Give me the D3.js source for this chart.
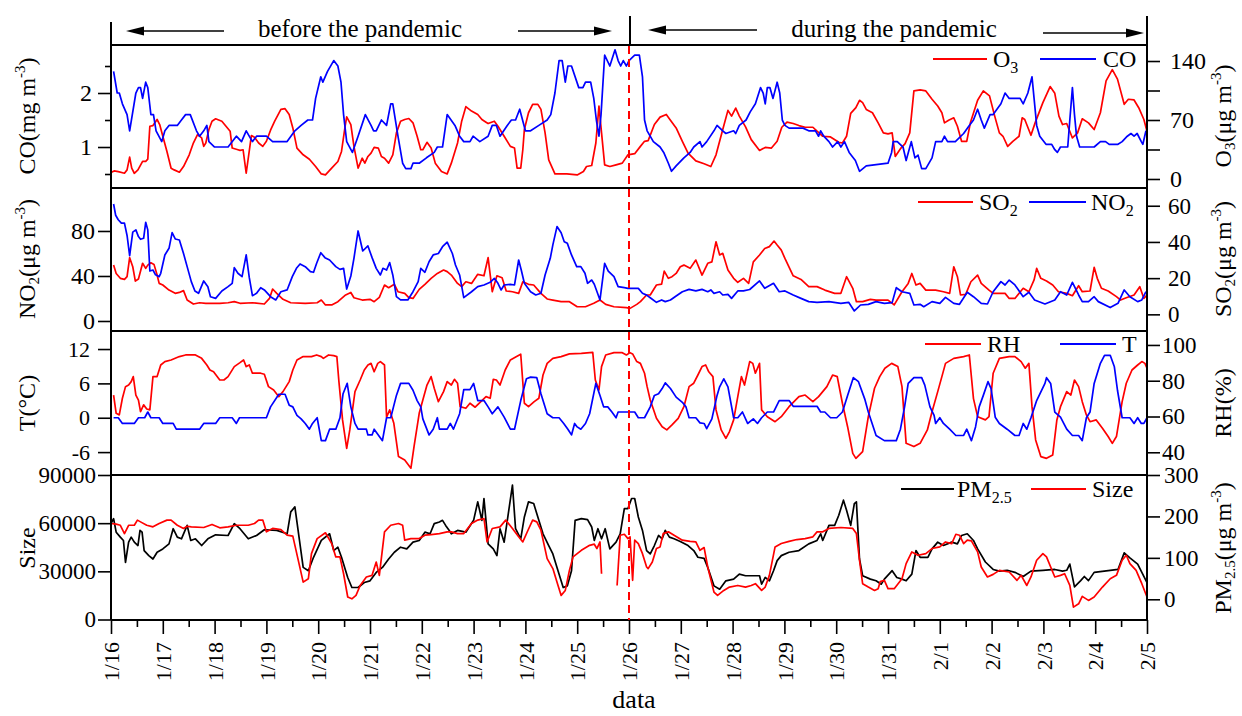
<!DOCTYPE html>
<html><head><meta charset="utf-8">
<script src="https://cdn.jsdelivr.net/npm/d3@7"></script>
<style>
body{margin:0;background:#fff;}
svg text{font-family:"Liberation Serif","Times New Roman",serif;fill:#000;}
</style>
</head><body>
<svg id="c" width="1242" height="716"></svg>
<script>
// ---------------- DATA (day offset from 1/16 00:00, value) ----------------
const dayLabels = ["1/16","1/17","1/18","1/19","1/20","1/21","1/22","1/23","1/24","1/25","1/26","1/27","1/28","1/29","1/30","1/31","2/1","2/2","2/3","2/4","2/5"];

const coData = [[0.05,2.4],[0.12,2.0],[0.16,2.0],[0.22,1.8],[0.31,1.6],[0.36,1.3],[0.48,2.0],[0.53,2.1],[0.57,2.1],[0.61,1.9],[0.67,2.2],[0.71,2.1],[0.77,1.6],[0.82,1.6],[0.87,1.3],[0.98,1.1],[1.04,1.3],[1.12,1.4],[1.28,1.4],[1.36,1.5],[1.44,1.6],[1.53,1.6],[1.65,1.3],[1.71,1.2],[1.79,1.3],[1.85,1.4],[1.89,1.1],[2.0,1.0],[2.26,1.0],[2.42,1.2],[2.52,1.1],[2.61,1.3],[2.73,1.1],[2.81,1.2],[3.0,1.2],[3.12,1.1],[3.4,1.1],[3.55,1.3],[3.67,1.4],[3.8,1.5],[3.89,1.5],[3.95,1.9],[4.05,2.3],[4.09,2.2],[4.18,2.4],[4.3,2.6],[4.38,2.5],[4.44,2.2],[4.49,1.6],[4.55,1.1],[4.66,0.9],[4.77,1.2],[4.91,1.6],[5.02,1.4],[5.07,1.3],[5.12,1.3],[5.22,1.5],[5.32,1.4],[5.4,1.8],[5.44,1.8],[5.54,1.2],[5.63,0.7],[5.69,0.6],[5.79,0.6],[5.83,0.7],[5.95,0.7],[6.09,0.8],[6.24,0.9],[6.3,1.0],[6.4,1.0],[6.49,1.6],[6.64,1.4],[6.73,1.2],[6.81,1.1],[6.93,1.1],[6.99,1.2],[7.12,1.1],[7.28,1.2],[7.36,1.4],[7.44,1.4],[7.51,1.2],[7.65,1.4],[7.73,1.5],[7.81,1.5],[7.89,1.7],[8.0,1.3],[8.1,1.3],[8.26,1.4],[8.42,1.5],[8.49,1.6],[8.57,2.0],[8.65,2.6],[8.71,2.6],[8.77,2.2],[8.82,2.5],[8.89,2.5],[9.03,2.1],[9.11,2.1],[9.16,2.2],[9.26,2.2],[9.32,1.9],[9.37,1.5],[9.42,1.2],[9.46,1.6],[9.53,2.7],[9.63,2.5],[9.73,2.8],[9.79,2.6],[9.84,2.5],[9.89,2.6],[9.95,2.5],[10.0,2.6],[10.11,2.7],[10.2,2.7],[10.26,2.3],[10.3,1.5],[10.35,1.3],[10.47,1.1],[10.6,1.0],[10.67,0.9],[10.76,0.7],[10.82,0.55],[10.91,0.65],[11.06,0.8],[11.18,0.9],[11.25,1.0],[11.37,1.1],[11.41,1.0],[11.5,1.1],[11.64,1.3],[11.7,1.4],[11.81,1.3],[11.87,1.25],[12.02,1.3],[12.06,1.25],[12.13,1.4],[12.26,1.5],[12.34,1.65],[12.44,1.8],[12.54,2.1],[12.59,2.0],[12.63,1.8],[12.67,2.1],[12.72,2.1],[12.78,1.9],[12.86,2.2],[12.91,2.0],[12.96,1.5],[13.01,1.4],[13.09,1.35],[13.36,1.35],[13.47,1.3],[13.6,1.3],[13.66,1.2],[13.7,1.3],[13.76,1.2],[13.86,1.1],[13.93,1.0],[14.03,1.1],[14.09,1.0],[14.16,1.1],[14.25,0.9],[14.37,0.75],[14.45,0.55],[14.58,0.65],[15.0,0.7],[15.07,0.9],[15.1,1.1],[15.18,1.1],[15.29,1.0],[15.35,0.75],[15.45,1.1],[15.52,0.8],[15.58,0.85],[15.65,0.6],[15.73,0.6],[15.85,0.8],[15.92,1.1],[16.04,1.1],[16.09,1.2],[16.15,1.1],[16.3,1.1],[16.46,1.25],[16.57,1.4],[16.65,1.5],[16.73,1.7],[16.8,1.5],[16.86,1.35],[16.97,1.6],[17.03,1.6],[17.18,1.8],[17.26,2.0],[17.34,1.9],[17.55,1.9],[17.61,1.8],[17.7,2.0],[17.78,2.3],[17.82,1.9],[17.87,1.4],[17.93,1.2],[18.05,1.05],[18.16,1.05],[18.22,0.95],[18.27,0.9],[18.33,1.0],[18.47,1.0],[18.51,1.5],[18.56,2.1],[18.6,1.6],[18.64,1.2],[18.7,1.0],[18.98,1.0],[19.1,1.1],[19.2,1.1],[19.27,1.05],[19.44,1.05],[19.52,1.1],[19.62,1.2],[19.69,1.25],[19.75,1.2],[19.81,1.25],[19.89,1.1],[19.92,1.05],[19.98,1.3]];

const o3Data = [[0,7.6],[0.06,9.6],[0.14,8.8],[0.26,6.8],[0.31,10.8],[0.36,26],[0.4,12.8],[0.45,6.8],[0.52,10.8],[0.61,21],[0.67,21],[0.71,23.5],[0.75,62.6],[0.81,63.4],[0.89,70.6],[0.94,64.6],[1.0,50.7],[1.08,32.7],[1.16,12.8],[1.22,10.8],[1.32,8],[1.4,14.8],[1.51,28.7],[1.59,42.7],[1.67,52.7],[1.75,48.7],[1.79,38.7],[1.83,42.7],[1.89,58.7],[1.95,68.6],[2.02,71.4],[2.14,68.6],[2.22,62.6],[2.3,56.7],[2.34,36.7],[2.45,34.7],[2.49,33.9],[2.55,34.7],[2.61,6.8],[2.71,51.5],[2.77,49.5],[2.85,42.7],[2.93,38.7],[3.0,44.7],[3.08,57.9],[3.16,68.6],[3.28,82.6],[3.36,83.4],[3.44,76.6],[3.51,60.6],[3.59,36.7],[3.71,28.7],[3.83,23.5],[3.95,14.8],[4.06,6],[4.14,4.8],[4.26,12.8],[4.38,20.7],[4.45,32.7],[4.52,62.6],[4.55,73.8],[4.63,64.6],[4.69,38.7],[4.77,12.8],[4.85,24.7],[4.9,18.8],[4.96,26.7],[5.02,30.7],[5.08,37.5],[5.16,36.7],[5.22,26.7],[5.28,24.7],[5.36,18.8],[5.44,28.7],[5.51,54.7],[5.59,68.6],[5.67,70.6],[5.75,71.8],[5.83,66.6],[5.91,50.7],[5.98,34.7],[6.02,34.7],[6.1,43.5],[6.18,36.7],[6.26,18.8],[6.38,8.8],[6.49,6],[6.57,18.8],[6.69,42.7],[6.77,68.6],[6.85,85.8],[6.96,80.6],[7.08,76.6],[7.16,70.6],[7.24,67.4],[7.28,65.8],[7.4,68.6],[7.47,62.6],[7.59,50.7],[7.71,38.7],[7.79,36.7],[7.84,12.8],[7.91,12.8],[7.95,34.7],[7.98,58.7],[8.06,78.6],[8.14,88.6],[8.24,88.6],[8.3,82.6],[8.38,54.7],[8.45,22.7],[8.57,6],[8.8,6],[9.0,4.8],[9.12,8.8],[9.18,14.8],[9.28,16],[9.36,42.7],[9.42,86.6],[9.47,54.7],[9.53,16.8],[9.63,14.8],[9.75,16.8],[9.87,18.8],[9.98,28.7],[10.11,30],[10.22,38.7],[10.3,44.7],[10.37,45.5],[10.49,64.6],[10.6,73.4],[10.72,76.6],[10.8,69.8],[10.91,60.6],[11.03,44.7],[11.14,30.7],[11.29,21.5],[11.45,18],[11.58,14.8],[11.68,28.7],[11.81,58.7],[11.91,81.4],[11.98,74.6],[12.06,84.2],[12.13,74.6],[12.25,61.8],[12.36,46.7],[12.52,33.9],[12.63,37.5],[12.75,36.7],[12.86,44.7],[12.95,61.4],[13.05,67.4],[13.17,65.8],[13.28,63.4],[13.4,61.4],[13.55,61.4],[13.63,56.7],[13.74,50.7],[13.89,49.9],[14.05,43.5],[14.12,42.7],[14.2,50.7],[14.28,77.8],[14.38,84.6],[14.45,93.4],[14.51,90.6],[14.58,82.6],[14.7,78.6],[14.81,66.6],[14.91,54.7],[15.0,53.5],[15.08,54.7],[15.14,26.7],[15.25,36.7],[15.33,41.9],[15.42,54.7],[15.5,104.5],[15.62,105.7],[15.73,104.5],[15.85,94.6],[15.96,86.6],[16.04,78.6],[16.09,66.6],[16.17,69.8],[16.27,72.6],[16.34,62.6],[16.42,44.7],[16.52,44.7],[16.59,66.6],[16.73,93.4],[16.84,104.5],[16.96,98.6],[17.06,74.6],[17.15,54.7],[17.22,50.7],[17.31,38.7],[17.41,44.7],[17.53,50.7],[17.59,72.6],[17.64,70.6],[17.76,51.9],[17.84,66.6],[17.99,90.6],[18.13,109.7],[18.22,101.7],[18.3,74.6],[18.37,64.6],[18.45,65.8],[18.56,48.7],[18.66,54.7],[18.75,71.4],[18.87,66.6],[18.98,58.7],[19.1,78.6],[19.21,116.5],[19.33,129.7],[19.43,118.5],[19.56,88.6],[19.64,94.6],[19.75,93.8],[19.84,84.6],[19.94,70.6],[20.0,56.7]];

const no2Data = [[0.05,104],[0.09,94],[0.14,90],[0.2,87],[0.26,87],[0.31,76],[0.36,58],[0.42,79],[0.48,81],[0.53,75],[0.57,72.6],[0.63,73.5],[0.67,87.7],[0.71,81],[0.75,44.4],[0.81,45.3],[0.86,41],[0.93,39.4],[0.96,42.4],[1.04,58.7],[1.12,64.6],[1.18,78.5],[1.24,72.9],[1.32,72],[1.4,60],[1.47,48.3],[1.55,35],[1.62,26.7],[1.69,24.6],[1.79,35.6],[1.87,30.5],[1.92,21.6],[2.02,20.1],[2.14,26.7],[2.26,30.5],[2.34,33.5],[2.38,47.4],[2.45,42.4],[2.53,39.4],[2.61,58.7],[2.67,38.5],[2.73,22.5],[2.81,24.6],[2.89,29.6],[2.96,27.6],[3.08,21.6],[3.18,18.7],[3.28,26],[3.4,27.6],[3.5,39.4],[3.58,46.8],[3.65,50.7],[3.75,48.3],[3.85,43.9],[3.91,43.3],[3.97,51.3],[4.05,60.7],[4.13,56.3],[4.22,54.2],[4.34,48.3],[4.42,45.9],[4.49,46.8],[4.55,28.4],[4.63,40],[4.69,55.7],[4.77,80],[4.86,62.2],[4.96,66.7],[5.04,56.3],[5.12,46.8],[5.2,40.9],[5.25,46.8],[5.32,45.3],[5.38,51.9],[5.44,40.9],[5.51,21.6],[5.59,18.7],[5.73,18.7],[5.83,26],[5.93,35],[5.98,46.8],[6.06,43.3],[6.14,52.7],[6.22,58.7],[6.32,60],[6.4,66],[6.49,70],[6.59,60],[6.65,49.8],[6.73,40.9],[6.81,20.7],[6.96,26],[7.08,30.5],[7.2,32],[7.32,34.4],[7.4,37.9],[7.47,33.5],[7.53,27.6],[7.59,32],[7.71,32.6],[7.79,32],[7.87,54.2],[7.92,45.3],[7.98,33.5],[8.1,26],[8.2,23.1],[8.3,24.6],[8.38,40.9],[8.48,55.7],[8.53,67.6],[8.61,83.9],[8.69,78.5],[8.75,70.5],[8.81,69],[8.89,58.7],[8.99,48.3],[9.07,48.3],[9.15,42.4],[9.2,33.5],[9.28,36.4],[9.33,32.6],[9.44,18.7],[9.53,51.3],[9.6,44.4],[9.71,39.4],[9.79,30.5],[9.91,29.6],[9.98,29],[10.18,29],[10.26,24.6],[10.34,23],[10.41,20.7],[10.53,16.6],[10.63,18.7],[10.7,17.2],[10.8,18.7],[10.91,22.2],[11.03,26],[11.16,28.1],[11.29,26.7],[11.41,28.1],[11.52,26],[11.58,27.6],[11.64,24.6],[11.75,26],[11.81,23.1],[11.91,23.7],[11.98,20.1],[12.1,26.7],[12.21,26.7],[12.33,28],[12.52,35.6],[12.62,29],[12.79,33.5],[12.9,26],[13.01,26.7],[13.17,23.1],[13.32,20.1],[13.47,17.2],[13.63,16.6],[13.86,17.2],[14.09,15.7],[14.24,16.6],[14.35,8.9],[14.47,14.2],[14.62,14.8],[14.77,17.2],[14.93,15.7],[15.08,16.3],[15.16,29.6],[15.27,26],[15.42,24.6],[15.5,14.2],[15.62,14.8],[15.69,12.7],[15.85,17.2],[16.0,15.7],[16.11,21],[16.27,15.7],[16.38,14.8],[16.53,25.5],[16.65,21.6],[16.8,15.7],[16.92,15.1],[17.03,26],[17.18,35],[17.26,32],[17.34,36.4],[17.45,32],[17.61,21.6],[17.72,25.5],[17.83,18.7],[18.03,15.1],[18.22,18.7],[18.33,26],[18.45,23.1],[18.56,34.4],[18.68,23.1],[18.75,17.2],[18.87,17.2],[18.98,21.6],[19.06,17.2],[19.29,11.9],[19.44,15.7],[19.56,27.6],[19.67,21.6],[19.82,17.2],[19.9,18.7],[19.98,26]];

const so2Data = [[0.05,27.2],[0.1,22.6],[0.18,19.9],[0.26,19.3],[0.31,20.8],[0.36,31.3],[0.42,26.3],[0.47,18.4],[0.53,19.5],[0.61,28.2],[0.67,25.4],[0.71,27.2],[0.77,28.5],[0.83,27.6],[0.89,21.7],[0.93,17.1],[1.0,16.2],[1.12,13.4],[1.24,11.6],[1.32,12.1],[1.4,13.1],[1.47,7.9],[1.59,5.7],[1.71,6.4],[1.83,6.1],[2.1,6.1],[2.26,6.4],[2.38,7],[2.49,6.1],[2.73,6.4],[2.96,5.7],[3.06,8.8],[3.12,14],[3.2,11.6],[3.32,8.3],[3.47,6.4],[3.75,6.1],[3.98,6.4],[4.06,7.9],[4.14,5.2],[4.26,5.2],[4.38,7],[4.53,10.7],[4.63,12.1],[4.69,9.2],[4.85,7.9],[5.0,8.3],[5.08,7],[5.18,9.4],[5.28,16.2],[5.36,14.7],[5.47,16.6],[5.54,12.5],[5.67,11.6],[5.75,9.2],[5.83,8.8],[5.95,13.8],[6.06,16.6],[6.18,19.9],[6.3,22.6],[6.42,24.5],[6.49,23.6],[6.57,21.7],[6.69,17.1],[6.77,15.3],[6.85,18],[6.96,17.1],[7.08,22.1],[7.2,21.3],[7.28,31.3],[7.36,12.5],[7.45,21.3],[7.55,20.2],[7.63,12.9],[7.75,12.5],[7.87,11.6],[7.95,18],[8.06,16.6],[8.16,16.2],[8.3,11.6],[8.42,8.5],[8.53,7.9],[8.69,7],[8.85,7],[9.0,4.2],[9.16,4.2],[9.32,6.1],[9.44,7.9],[9.55,5.5],[9.71,4.2],[9.95,3.7],[10.02,3.3],[10.15,5.5],[10.22,7],[10.34,10.7],[10.41,10.7],[10.53,16.2],[10.63,16.7],[10.68,23.9],[10.76,19.9],[10.83,20.8],[10.91,22.6],[10.99,26.3],[11.06,27.2],[11.18,25.4],[11.29,30],[11.41,21.7],[11.52,28.2],[11.6,29],[11.68,40.1],[11.75,32.8],[11.81,33.7],[11.91,24.5],[12.02,19.9],[12.1,17.7],[12.21,19.9],[12.31,17.1],[12.4,29],[12.52,32.8],[12.62,36.4],[12.71,37.4],[12.8,40.5],[12.86,38.3],[12.94,35.5],[13.01,30.9],[13.17,21.3],[13.32,19.3],[13.47,15.3],[13.63,15.3],[13.78,13.4],[13.97,11.6],[14.09,11.6],[14.2,20.8],[14.32,14.4],[14.39,7],[14.51,7],[14.66,8.3],[14.77,7.9],[15.0,7.9],[15.12,5.2],[15.27,12.5],[15.39,17.1],[15.46,22.6],[15.54,16.2],[15.62,17.1],[15.73,13.4],[15.92,13.4],[16.07,12.5],[16.19,11.6],[16.27,26.3],[16.34,20.8],[16.4,10.7],[16.5,11],[16.6,18],[16.73,21.7],[16.8,17.1],[16.95,13.4],[17.03,11.6],[17.26,11.6],[17.34,8.8],[17.45,8.8],[17.61,14.4],[17.72,12.5],[17.82,19],[17.87,25.4],[17.95,19.9],[18.06,18.4],[18.18,16.2],[18.29,12.5],[18.45,11.6],[18.56,10.3],[18.68,15.8],[18.75,12.5],[18.9,12.9],[18.98,26],[19.04,19.9],[19.12,14.4],[19.25,12.9],[19.41,9.8],[19.49,7.9],[19.6,9.2],[19.75,10.7],[19.86,15.3],[19.94,8.8],[20.0,10.7]];

const rhData = [[0.05,72],[0.1,61.8],[0.16,60.9],[0.22,70.2],[0.28,76.7],[0.34,77.6],[0.39,79.5],[0.43,82.3],[0.48,72],[0.53,69.2],[0.57,62.7],[0.63,66.5],[0.69,64.2],[0.75,63.7],[0.81,82.3],[0.89,82.3],[0.96,88.8],[1.04,90.7],[1.16,91.6],[1.32,93.5],[1.44,94.4],[1.63,94.4],[1.75,92.5],[1.85,88.8],[1.91,86],[1.98,85],[2.1,80.4],[2.18,80.4],[2.26,82.3],[2.38,87.9],[2.49,90.1],[2.56,91.6],[2.61,87.9],[2.67,88.8],[2.73,84.2],[2.89,84.2],[2.96,83.6],[3.04,76.7],[3.14,74.8],[3.24,71.1],[3.32,73.9],[3.44,79.5],[3.51,86],[3.59,91.6],[3.71,93.5],[3.87,93.5],[3.97,94.4],[4.06,93.5],[4.1,92.5],[4.2,94.4],[4.3,94],[4.36,93.5],[4.4,79.5],[4.47,58.1],[4.55,42.2],[4.61,52.5],[4.71,73.9],[4.81,80.4],[4.89,86],[4.96,88.8],[5.02,89.7],[5.08,85],[5.15,89.7],[5.2,90.7],[5.28,88.8],[5.32,59.6],[5.38,63.7],[5.46,56.2],[5.55,37.6],[5.67,35.7],[5.79,31.1],[5.85,43.2],[5.95,61.8],[6.02,69.2],[6.1,77.6],[6.18,82.3],[6.24,75.8],[6.32,68.3],[6.42,73.9],[6.49,79.5],[6.57,77.6],[6.63,80.8],[6.69,78.6],[6.74,65.5],[6.85,64.6],[6.93,67.4],[7.03,65.2],[7.12,67.8],[7.24,71.1],[7.32,70.2],[7.38,80.8],[7.44,80.4],[7.51,77.6],[7.61,86],[7.71,91.6],[7.83,93.5],[7.91,94.8],[7.98,67.4],[8.06,65.5],[8.17,68.3],[8.26,70.2],[8.34,83.2],[8.42,89.7],[8.53,92.5],[8.69,93.5],[8.85,95],[9.08,95.3],[9.3,95.9],[9.35,80.4],[9.42,74.8],[9.47,87.9],[9.55,94.4],[9.71,95.7],[9.87,95.7],[9.95,94.4],[10.02,95.7],[10.07,95],[10.15,90.7],[10.22,89.7],[10.3,84.2],[10.35,76.7],[10.41,69.2],[10.53,59],[10.64,54.3],[10.73,52.5],[10.83,55.3],[10.95,59],[11.06,65.5],[11.16,76.7],[11.25,78.6],[11.33,83.2],[11.41,87.9],[11.48,88.8],[11.54,85],[11.62,82.3],[11.68,63.7],[11.78,52.5],[11.87,47.8],[11.94,51.6],[12.02,58.1],[12.1,71.1],[12.17,82.3],[12.23,77.6],[12.33,90.7],[12.39,89.7],[12.44,84.2],[12.52,89.7],[12.56,63.7],[12.67,59.9],[12.82,57.1],[12.94,59.9],[13.09,65.5],[13.28,71.1],[13.4,72],[13.55,68.3],[13.66,71.1],[13.82,76.7],[13.93,83.2],[14.02,82.3],[14.12,67.4],[14.22,54.3],[14.32,39.4],[14.38,36.6],[14.51,40.4],[14.62,59.9],[14.74,75.8],[14.84,82.3],[14.94,87],[15.07,89.7],[15.19,87.9],[15.27,76.7],[15.35,45],[15.5,43.2],[15.62,45],[15.76,52.5],[15.85,62.7],[15.96,73.9],[16.04,82.3],[16.11,89.7],[16.27,92.5],[16.46,93.5],[16.57,94.4],[16.65,70],[16.73,59.9],[16.88,58.1],[16.95,59.9],[17.03,84.2],[17.15,92.5],[17.34,93.5],[17.45,93.5],[17.57,90.7],[17.65,87],[17.72,89.7],[17.78,65.5],[17.85,46.9],[17.95,37.6],[18.06,36.6],[18.18,38.5],[18.26,58.1],[18.33,65.5],[18.45,73.9],[18.53,72],[18.6,80.4],[18.68,76.7],[18.75,68.3],[18.83,60.9],[18.9,57.1],[19.02,58.1],[19.14,53.4],[19.25,48.8],[19.33,45],[19.41,48.8],[19.52,68.3],[19.6,78.6],[19.71,86],[19.82,88.8],[19.9,90.7],[19.96,89.7],[20.0,87]];

const tData = [[0.05,0],[0.14,0],[0.22,-1],[0.45,-1],[0.53,0],[0.65,0],[0.71,1],[0.77,0],[0.93,0],[1.0,-1],[1.2,-1],[1.26,-2],[1.71,-2],[1.79,-1],[2.02,-1],[2.1,0],[2.34,0],[2.42,-1],[2.48,0],[3.0,0],[3.08,1.9],[3.24,4.1],[3.36,4.1],[3.44,2.2],[3.51,1.9],[3.59,0.4],[3.67,-0.2],[3.75,-1],[3.83,-2],[3.89,-1],[3.98,0],[4.06,-4],[4.14,-4],[4.22,-2],[4.34,-2],[4.42,0],[4.48,4.2],[4.56,6],[4.63,1.9],[4.71,-1],[4.77,-2],[4.93,-2],[4.96,-3],[5.04,-3],[5.08,-2],[5.16,-3],[5.24,-4],[5.32,0],[5.4,0],[5.51,3.9],[5.59,6],[5.75,6],[5.83,4.8],[5.91,3],[5.98,1.9],[6.02,-0.2],[6.14,-3],[6.22,-2],[6.3,0],[6.34,-2],[6.49,-2],[6.55,-1],[6.61,-2],[6.73,0.7],[6.81,4.9],[6.93,4.9],[7.0,6],[7.08,3],[7.2,3],[7.28,1.9],[7.36,0.7],[7.47,1.9],[7.59,0.1],[7.71,-2],[7.79,-2],[7.91,3],[8.02,6.8],[8.1,7.1],[8.22,7],[8.3,4.2],[8.42,0.7],[8.53,0],[8.65,0],[8.74,-1],[8.82,-2],[8.89,-3],[8.95,-1],[9.0,-1.6],[9.07,-2],[9.16,-1],[9.24,0.7],[9.36,6],[9.44,3.9],[9.51,1.9],[9.59,1.9],[9.67,1],[9.75,0],[9.79,1],[9.95,1],[10.02,1],[10.11,1],[10.18,0],[10.3,0],[10.41,1.9],[10.49,3.9],[10.57,4.2],[10.64,5.1],[10.7,6.1],[10.8,5.1],[10.91,3.6],[11.03,2.7],[11.1,1.9],[11.16,0],[11.29,0],[11.37,-0.9],[11.45,-1],[11.5,-1.9],[11.6,-0.2],[11.7,3.9],[11.75,5.4],[11.83,6.8],[11.91,5.4],[12.02,0],[12.1,0],[12.19,1],[12.29,-1],[12.4,-0.2],[12.48,-1],[12.56,0],[12.67,1],[12.79,1],[12.9,3],[13.09,3],[13.17,2],[13.63,2],[13.7,1],[13.78,1],[13.89,0],[14.01,0],[14.12,1],[14.22,3.9],[14.33,7],[14.43,6.3],[14.55,3.3],[14.62,1],[14.77,-3.1],[14.93,-4],[15.16,-4],[15.24,-2],[15.32,1.9],[15.39,6],[15.5,7],[15.65,7],[15.71,5.7],[15.81,1.9],[15.89,0.4],[15.92,-1],[16.0,0],[16.07,-1],[16.19,-2],[16.31,-3.1],[16.46,-3.1],[16.52,-2],[16.61,-4],[16.69,-1.6],[16.76,1.9],[16.84,3.9],[16.93,6.3],[16.99,5.1],[17.07,0.1],[17.15,-1],[17.3,-2],[17.45,-3.1],[17.53,-3.1],[17.61,-1],[17.68,-2],[17.76,0],[17.87,3],[18.03,6],[18.06,7],[18.14,6],[18.22,1],[18.33,0.1],[18.45,-2],[18.56,-3.1],[18.68,-3.1],[18.75,-4],[18.83,0],[18.9,1],[18.98,6],[19.1,9.5],[19.18,10.9],[19.29,10.9],[19.37,8.9],[19.43,4.8],[19.52,0],[19.67,0],[19.75,-1],[19.82,0],[19.89,-1],[19.94,-1],[20.0,0]];

const pmData = [[0,182.5],[0.05,194.6],[0.1,162],[0.18,150],[0.24,142],[0.28,89.2],[0.34,137.9],[0.39,150],[0.45,137.9],[0.52,129.8],[0.56,166.3],[0.6,162],[0.64,117.6],[0.73,105.4],[0.81,97.3],[0.89,113.5],[1.0,121.6],[1.12,133.8],[1.2,170.3],[1.28,150],[1.36,146],[1.47,178.4],[1.54,142],[1.63,146],[1.75,129.8],[1.87,146],[2.02,155.7],[2.26,154],[2.38,182.5],[2.49,170.3],[2.65,146],[2.81,154],[2.96,167.9],[3.2,166.3],[3.4,158.1],[3.47,210.9],[3.55,223],[3.63,150],[3.71,77],[3.81,69],[3.91,101.4],[4.06,142],[4.22,158.1],[4.3,117.6],[4.38,125.7],[4.45,101.4],[4.57,52.7],[4.65,28.4],[4.77,28.4],[4.89,40.6],[5.0,44.6],[5.12,64.9],[5.24,77],[5.36,97.3],[5.47,113.5],[5.59,125.7],[5.71,121.6],[5.83,137.9],[5.95,142],[6.06,162],[6.16,158.1],[6.24,182.5],[6.34,186.5],[6.4,190.6],[6.46,178.4],[6.53,166.3],[6.57,158.1],[6.69,166.3],[6.85,162],[7.0,190.6],[7.08,235.2],[7.16,190.6],[7.2,243.3],[7.28,133.8],[7.38,121.6],[7.45,105.4],[7.51,170.3],[7.59,137.9],[7.67,206.8],[7.75,275.7],[7.81,170.3],[7.91,146],[7.98,198.7],[8.06,235.2],[8.16,231.1],[8.24,198.7],[8.34,158.1],[8.45,129.8],[8.53,109.5],[8.61,77],[8.73,28.4],[8.81,32.4],[8.89,69],[8.96,190.6],[9.08,194.6],[9.2,192.2],[9.28,174.4],[9.33,142],[9.4,170.3],[9.47,146],[9.54,170.3],[9.63,121.6],[9.75,137.9],[9.83,158.1],[9.91,219],[9.98,219],[10.05,243.3],[10.11,243.3],[10.18,198.7],[10.26,166.3],[10.34,117.6],[10.41,109.5],[10.49,129.8],[10.57,154],[10.64,146],[10.7,166.3],[10.78,150],[10.87,146],[10.99,139.5],[11.14,129.8],[11.25,117.6],[11.33,101.4],[11.45,98.9],[11.52,77],[11.64,32.4],[11.75,24.3],[11.87,44.6],[12.02,48.7],[12.13,60.8],[12.25,56.8],[12.52,56.8],[12.56,36.5],[12.63,52.7],[12.71,44.6],[12.79,69],[12.86,93.3],[12.94,105.4],[13.09,113.5],[13.28,117.6],[13.47,133.8],[13.63,142],[13.7,158.1],[13.74,142],[13.86,178.4],[13.97,178.4],[14.05,202.8],[14.14,239.3],[14.2,215],[14.28,178.4],[14.35,231.1],[14.39,235.2],[14.45,97.3],[14.51,56.8],[14.66,48.7],[14.77,44.6],[14.87,36.5],[14.93,48.7],[15.08,69],[15.17,52.7],[15.27,48.7],[15.35,44.6],[15.46,60.8],[15.54,117.6],[15.62,101.4],[15.77,101.4],[15.85,121.6],[15.96,137.9],[16.07,129.8],[16.23,137.9],[16.34,133.8],[16.42,154],[16.53,158.1],[16.65,142],[16.73,121.6],[16.88,90],[17.03,72],[17.15,68],[17.3,70],[17.45,65],[17.61,55],[17.76,68],[17.99,70],[18.22,72],[18.37,68],[18.45,70],[18.51,85],[18.6,30],[18.72,45],[18.79,55],[18.87,45],[18.98,65],[19.29,70],[19.44,72],[19.56,112],[19.67,100],[19.82,85],[20.0,40]];

const sizeData = [[0,59800],[0.1,59400],[0.18,58700],[0.26,53500],[0.34,58700],[0.45,58700],[0.51,61900],[0.57,60800],[0.69,58700],[0.81,57700],[0.93,59800],[1.08,61900],[1.16,61900],[1.28,58700],[1.4,56700],[1.47,58100],[1.55,57700],[1.79,57300],[1.95,59200],[2.1,57100],[2.26,57700],[2.42,58700],[2.65,58700],[2.77,59800],[2.85,61900],[2.93,61900],[3.0,54600],[3.12,56700],[3.28,56000],[3.4,52500],[3.51,51900],[3.63,34800],[3.71,23300],[3.81,25400],[3.87,41000],[3.98,50400],[4.14,54000],[4.26,47300],[4.34,39000],[4.42,39000],[4.49,28500],[4.57,14000],[4.65,12900],[4.73,15000],[4.81,21200],[4.93,26500],[5.04,27500],[5.12,35800],[5.18,27500],[5.28,54600],[5.4,58700],[5.55,59800],[5.63,58700],[5.67,49400],[5.79,50400],[5.95,50400],[6.06,52500],[6.18,52900],[6.34,53500],[6.49,54600],[6.57,54600],[6.69,53500],[6.81,53500],[6.96,59800],[7.08,61900],[7.2,62900],[7.26,48300],[7.36,56700],[7.51,57700],[7.62,61900],[7.75,56700],[7.87,51500],[7.95,48300],[8.05,55600],[8.14,61900],[8.22,60800],[8.3,55600],[8.42,37900],[8.53,31700],[8.63,21200],[8.69,15000],[8.77,18100],[8.85,30600],[8.92,39000],[9.08,43100],[9.24,46200],[9.33,46900],[9.38,44200],[9.44,48300],[9.47,28500],[9.6,null],[9.77,21200],[9.83,52500],[9.91,53100],[9.98,50400],[10.02,51500],[10.07,24400],[10.11,49400],[10.18,47300],[10.26,41000],[10.34,32700],[10.37,31700],[10.45,35800],[10.53,44200],[10.6,45200],[10.66,53500],[10.76,54600],[10.87,52500],[11.03,49400],[11.18,48700],[11.29,48300],[11.37,43100],[11.45,44800],[11.52,32700],[11.64,17100],[11.71,15000],[11.83,18100],[11.94,20200],[12.1,21200],[12.25,20200],[12.36,21200],[12.44,22300],[12.56,18100],[12.63,20200],[12.71,27500],[12.82,45200],[12.94,47300],[13.09,48700],[13.24,49800],[13.4,50400],[13.55,51500],[13.63,54600],[13.74,54600],[13.86,56700],[14.09,57300],[14.32,56700],[14.39,53500],[14.45,36900],[14.51,22300],[14.62,20200],[14.74,18100],[14.81,19200],[14.85,23700],[14.93,24400],[15.0,19200],[15.12,19200],[15.27,25400],[15.35,34800],[15.46,42100],[15.58,40000],[15.73,41000],[15.85,44200],[16.0,45200],[16.11,48300],[16.23,47300],[16.31,53100],[16.38,52500],[16.46,47300],[16.53,49400],[16.61,49000],[16.73,42100],[16.8,32700],[16.92,26500],[17.03,28100],[17.15,30600],[17.34,29600],[17.49,24400],[17.57,27500],[17.68,21200],[17.76,26500],[17.87,36900],[17.99,41000],[18.06,39000],[18.22,26500],[18.33,27500],[18.41,28500],[18.51,21200],[18.58,7700],[18.68,9800],[18.75,14400],[18.87,11900],[18.98,14000],[19.14,20200],[19.29,25400],[19.41,27500],[19.52,36900],[19.6,40000],[19.67,34800],[19.79,30600],[19.9,22300],[20.0,14000]];

const coTicks = [1,2], coMinor = [0.5,1.5,2.5];
const o3Ticks = [0,70,140], o3Minor = [35,105];
const no2Ticks = [0,40,80];
const so2Ticks = [0,20,40,60];
const tTicks = [-6,0,6,12];
const rhTicks = [40,60,80,100];
const sizeTicks = [0,30000,60000,90000];
const pmTicks = [0,100,200,300];

// ---------------- LAYOUT ----------------
const L = 111, R = 1147;
const P = [[45,188],[188,331],[331,475],[475,620]];
const svg = d3.select("#c");
const x = d3.scaleLinear().domain([0,20]).range([L,R]);

const yCO = d3.scaleLinear().domain([0.241,2.889]).range([188,45]);
const yO3 = d3.scaleLinear().domain([-10.7,159]).range([188,45]);
const yNO2 = d3.scaleLinear().domain([-8.9,118.2]).range([331,188]);
const ySO2 = d3.scaleLinear().domain([-9.2,69.8]).range([331,188]);
const yT = d3.scaleLinear().domain([-10,15.15]).range([475,331]);
const yRH = d3.scaleLinear().domain([27.3,107.8]).range([475,331]);
const ySize = d3.scaleLinear().domain([0,90000]).range([619.5,475]);
const yPM = d3.scaleLinear().domain([-50,300]).range([620,475]);

function yAxis(scale, side, ticks, opt){
  opt = opt || {};
  const xpos = side==="left" ? L : R;
  const ax = (side==="left"?d3.axisLeft(scale):d3.axisRight(scale))
    .tickValues(ticks).tickSize(13).tickPadding(opt.pad!=null?opt.pad:6).tickFormat(d=>String(d));
  const g = svg.append("g").attr("transform",`translate(${xpos},0)`).call(ax);
  g.select(".domain").remove();
  g.selectAll("line").attr("stroke","#000").attr("stroke-width",1.6);
  g.selectAll("text").style("font-size",(opt.fs||23)+"px").attr("font-family","Liberation Serif");
  if(opt.minor){
    const mx = (side==="left"?d3.axisLeft(scale):d3.axisRight(scale)).tickValues(opt.minor).tickSize(opt.minorSize||6).tickFormat("");
    const gm = svg.append("g").attr("transform",`translate(${xpos},0)`).call(mx);
    gm.select(".domain").remove();
    gm.selectAll("line").attr("stroke","#000").attr("stroke-width",1.6);
  }
}
yAxis(yCO,"left",coTicks,{minor:coMinor,minorSize:6,fs:24});
yAxis(yO3,"right",o3Ticks,{minor:o3Minor,minorSize:13,pad:10,fs:24});
yAxis(yNO2,"left",no2Ticks,{pad:3,fs:24});
yAxis(ySO2,"right",so2Ticks,{pad:8,fs:23});
yAxis(yT,"left",tTicks,{pad:8,fs:22});
yAxis(yRH,"right",rhTicks,{pad:2,fs:23});
yAxis(ySize,"left",sizeTicks,{pad:2,fs:23});
yAxis(yPM,"right",pmTicks,{pad:4,fs:23});

// bottom x axis
const xa = d3.axisBottom(x).tickValues(d3.range(0,21)).tickSize(14).tickFormat((d,i)=>dayLabels[i]);
const gx = svg.append("g").attr("transform",`translate(0,620)`).call(xa);
gx.select(".domain").remove();
gx.selectAll("line").attr("stroke","#000").attr("stroke-width",1.6);
gx.selectAll("text").attr("transform","rotate(-90)").attr("text-anchor","end")
  .attr("x",-22).attr("y",0).attr("dy","0.35em").style("font-size","22px");
const xm = d3.axisBottom(x).tickValues(d3.range(0.5,20,1)).tickSize(7).tickFormat("");
const gxm = svg.append("g").attr("transform",`translate(0,620)`).call(xm);
gxm.select(".domain").remove();
gxm.selectAll("line").attr("stroke","#000").attr("stroke-width",1.6);

// clip paths
const defs = svg.append("defs");
P.forEach((p,i)=>{
  defs.append("clipPath").attr("id","clip"+i).append("rect")
    .attr("x",L).attr("y",p[0]).attr("width",R-L).attr("height",p[1]-p[0]);
});

function drawLine(data, yScale, color, panel){
  const line = d3.line().defined(d=>d[1]!=null).x(d=>x(d[0])).y(d=>yScale(d[1]));
  svg.append("path").datum(data).attr("clip-path",`url(#clip${panel})`)
    .attr("fill","none").attr("stroke",color).attr("stroke-width",1.7)
    .attr("stroke-linejoin","round").attr("d",line);
}
drawLine(o3Data,yO3,"#ff0000",0);
drawLine(coData,yCO,"#0000ff",0);
drawLine(so2Data,ySO2,"#ff0000",1);
drawLine(no2Data,yNO2,"#0000ff",1);
drawLine(rhData,yRH,"#ff0000",2);
drawLine(tData,yT,"#0000ff",2);
drawLine(pmData,yPM,"#000000",3);
drawLine(sizeData,ySize,"#ff0000",3);

// frames
const fr = svg.append("g").attr("stroke","#000").attr("stroke-width",2);
[45,188,331,475,620].forEach(y=>fr.append("line").attr("x1",L).attr("x2",R).attr("y1",y).attr("y2",y));
fr.append("line").attr("x1",L).attr("x2",L).attr("y1",22).attr("y2",620);
fr.append("line").attr("x1",R).attr("x2",R).attr("y1",16).attr("y2",620);
fr.append("line").attr("x1",630).attr("x2",630).attr("y1",16).attr("y2",45);

// dashed divider
svg.append("line").attr("x1",x(10)).attr("x2",x(10)).attr("y1",46).attr("y2",620)
  .attr("stroke","#ff0000").attr("stroke-width",2).attr("stroke-dasharray","8,5");

// header
function arrow(x1,x2,y){
  const dir = x2>x1?1:-1;
  svg.append("line").attr("x1",x1).attr("x2",x2-dir*14).attr("y1",y).attr("y2",y).attr("stroke","#000").attr("stroke-width",1.5);
  svg.append("path").attr("d",`M${x2},${y}L${x2-dir*18},${y-4.5}L${x2-dir*18},${y+4.5}Z`).attr("fill","#000");
}
arrow(224,126,31); arrow(518,612,31);
arrow(757,648,30); arrow(1043,1144,33);
svg.append("text").attr("x",360).attr("y",37).attr("text-anchor","middle").style("font-size","25px").text("before the pandemic");
svg.append("text").attr("x",894).attr("y",37).attr("text-anchor","middle").style("font-size","25px").text("during the pandemic");

// axis titles
function title(cx, cy, parts){
  const t = svg.append("text").attr("transform",`translate(${cx},${cy}) rotate(-90)`)
    .attr("text-anchor","middle").attr("dy","0.35em").style("font-size","24px");
  parts.forEach(p=>{
    const s = t.append("tspan").text(p[0]);
    if(p[1]==="sup"){ s.style("font-size","15px").attr("dy",-10); }
    else if(p[1]==="sub"){ s.style("font-size","15px").attr("dy",4); }
    else if(p[1]==="back"){ s.attr("dy",p[2]); }
  });
}
const TL = 27, TR = 1223;
title(TL,116,[["CO(mg m"],["-3","sup"],[")","back",10]]);
title(TR,116,[["O"],["3","sub"],["(μg m","back",-4],["-3","sup"],[")","back",10]]);
title(TL,259,[["NO"],["2","sub"],["(μg m","back",-4],["-3","sup"],[")","back",10]]);
title(TR,259,[["SO"],["2","sub"],["(μg m","back",-4],["-3","sup"],[")","back",10]]);
title(TL,403,[["T(°C)"]]);
title(TR,403,[["RH(%)"]]);
title(TL,548,[["Size"]]);
title(TR,548,[["PM"],["2.5","sub"],["(μg m","back",-4],["-3","sup"],[")","back",10]]);

svg.append("text").attr("x",634).attr("y",708).attr("text-anchor","middle").style("font-size","26px").text("data");

// legends
function legend(ly, items){
  items.forEach(it=>{
    svg.append("line").attr("x1",it[0]).attr("x2",it[1]).attr("y1",ly).attr("y2",ly)
      .attr("stroke",it[2]).attr("stroke-width",1.8);
    const t = svg.append("text").attr("x",it[3]).attr("y",ly+8).style("font-size","24px");
    t.append("tspan").text(it[4]);
    if(it[5]) t.append("tspan").text(it[5]).style("font-size","16px").attr("dy",6);
  });
}
legend(59,[[933,987,"#ff0000",993,"O","3"],[1040,1096,"#0000ff",1103,"CO"]]);
legend(202,[[918,973,"#ff0000",979,"SO","2"],[1029,1086,"#0000ff",1091,"NO","2"]]);
legend(344,[[925,981,"#ff0000",987,"RH"],[1060,1116,"#0000ff",1122,"T"]]);
legend(489,[[901,954,"#000000",957,"PM","2.5"],[1031,1086,"#ff0000",1092,"Size"]]);
</script>
</body></html>
